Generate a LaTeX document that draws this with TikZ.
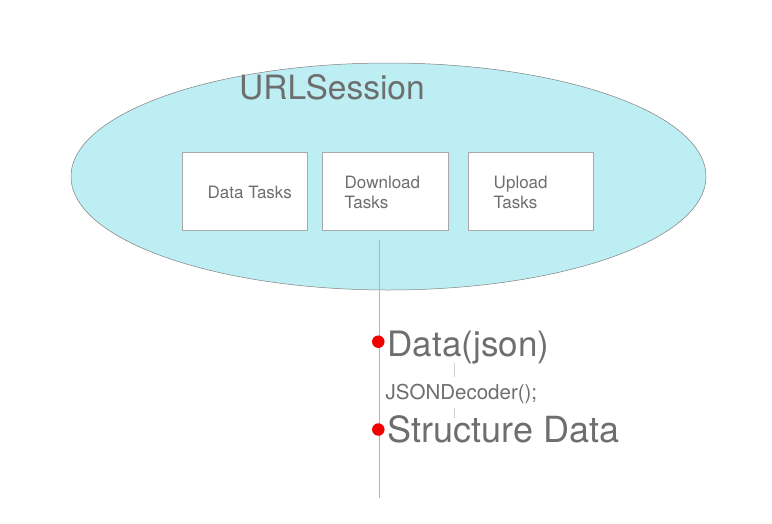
\documentclass[tikz,border=0pt]{standalone}
\usepackage{fontspec}
\setmainfont{TeX Gyre Heros}
\definecolor{txtgray}{HTML}{6E6E6E}
\definecolor{sessfill}{HTML}{BDEEF3}
\definecolor{edgegray}{HTML}{A8A8A8}
\definecolor{linegray}{HTML}{B4B4B4}
\definecolor{dotred}{HTML}{F20000}
\begin{document}
\begin{tikzpicture}[x=1pt,y=-1pt,
  taskbox/.style={draw=edgegray,fill=white,line width=0.8pt,inner sep=0pt},
  lbl/.style={text=txtgray,inner sep=0pt,anchor=base west},
  small/.style={lbl,font=\fontsize{17}{20}\selectfont},
  big/.style={lbl,font=\fontsize{36}{40}\selectfont},
  conn/.style={draw=linegray,line width=0.8pt},
  reddot/.style={circle,fill=dotred,inner sep=0pt,minimum size=12.5pt}]
\useasboundingbox (0,0) rectangle (772,523);
% session ellipse
\filldraw[fill=sessfill,draw=gray,line width=0.5pt] (388.5,176.5) ellipse [x radius=317.5pt, y radius=113.5pt];
\node[lbl,font=\fontsize{33.5}{38}\selectfont] (sess) at (239,99) {URLSession};
% task boxes
\node[taskbox,minimum width=125pt,minimum height=78pt] (data) at (244.8,191.3) {};
\node[taskbox,minimum width=125.6pt,minimum height=78pt] (down) at (385.5,191.3) {};
\node[taskbox,minimum width=125pt,minimum height=78pt] (up) at (530.8,191.3) {};
\node[small] (datat) at (207.5,198.3) {Data Tasks};
\node[small,align=left,anchor=base west] (downt) at (344.5,208.3) {Download\\Tasks};
\node[small,align=left,anchor=base west] (upt) at (493.5,208.3) {Upload\\Tasks};
% vertical timeline
\coordinate (ltop) at (379,240);
\coordinate (lbot) at (379,498);
\draw[conn] (ltop) -- (lbot);
\node[reddot] (d1) at (378.3,341.7) {};
\node[reddot] (d2) at (378.3,429.5) {};
\node[big,font=\fontsize{35}{40}\selectfont] (json) at (387.5,356) {Data(json)};
\node[lbl,font=\fontsize{20.5}{24}\selectfont] (dec) at (385.5,399) {JSONDecoder();};
\node[big] (struct) at (387.5,442.5) {Structure Data};
\coordinate (s1a) at (454,363);
\coordinate (s1b) at (454,377);
\coordinate (s2a) at (454,407.5);
\coordinate (s2b) at (454,418);
\draw[conn,draw=gray!35] (s1a) -- (s1b);
\draw[conn,draw=gray!35] (s2a) -- (s2b);
\end{tikzpicture}
\end{document}
